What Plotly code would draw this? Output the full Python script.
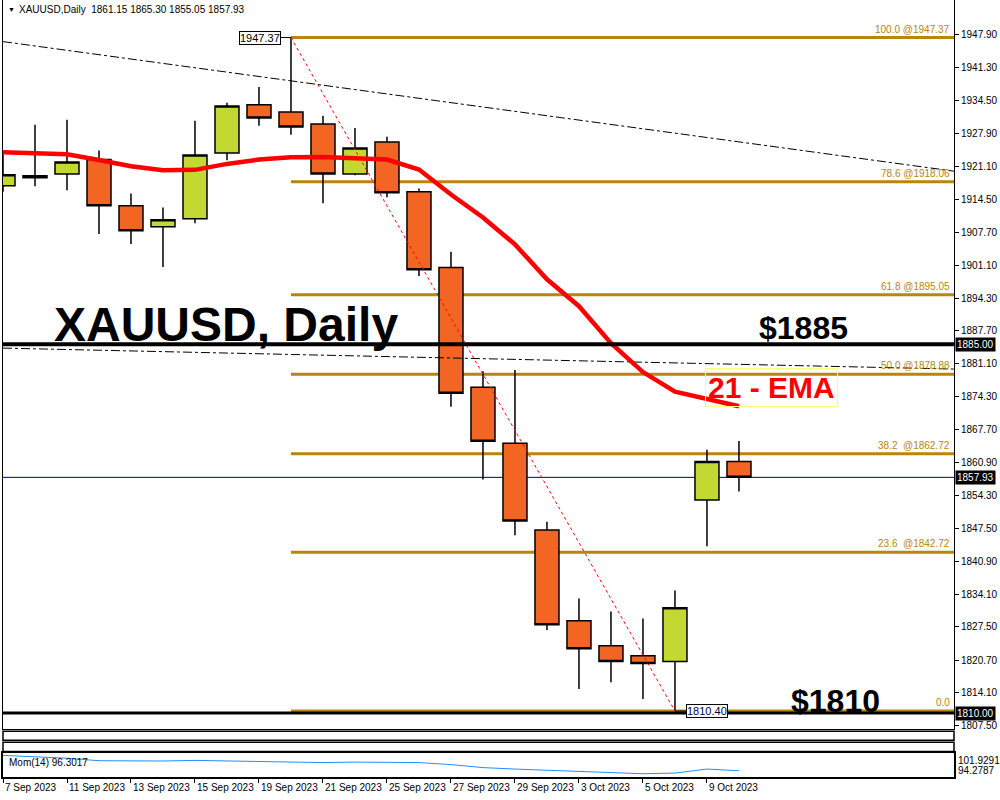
import plotly.graph_objects as go

# ---------------- data ----------------
dates = ["7 Sep 2023", "8 Sep 2023", "11 Sep 2023", "12 Sep 2023", "13 Sep 2023",
         "14 Sep 2023", "15 Sep 2023", "18 Sep 2023", "19 Sep 2023", "20 Sep 2023",
         "21 Sep 2023", "22 Sep 2023", "25 Sep 2023", "26 Sep 2023", "27 Sep 2023",
         "28 Sep 2023", "29 Sep 2023", "2 Oct 2023", "3 Oct 2023", "4 Oct 2023",
         "5 Oct 2023", "6 Oct 2023", "9 Oct 2023", "10 Oct 2023"]
opens = [1917.21, 1919.24, 1919.64, 1922.55, 1913.15, 1908.89, 1910.52, 1923.90,
         1933.70, 1932.22, 1929.79, 1919.64, 1926.14, 1915.99, 1900.58, 1876.24,
         1864.88, 1847.23, 1828.77, 1823.70, 1821.67, 1820.46, 1853.32, 1861.15]
highs = [1923.56, 1929.64, 1930.66, 1924.37, 1915.65, 1912.81, 1930.46, 1934.11,
         1937.29, 1947.37, 1931.47, 1928.98, 1927.21, 1916.66, 1903.82, 1879.48,
         1879.75, 1848.91, 1833.30, 1830.66, 1829.24, 1834.92, 1863.52, 1865.30]
lows = [1915.99, 1917.13, 1916.32, 1907.39, 1905.36, 1900.70, 1909.62, 1922.40,
        1929.44, 1927.62, 1913.68, 1919.36, 1914.90, 1898.87, 1872.30, 1857.49,
        1846.14, 1826.87, 1814.90, 1816.26, 1812.87, 1810.40, 1843.90, 1855.05]
closes = [1919.44, 1918.83, 1922.08, 1913.15, 1908.08, 1910.31, 1923.50, 1933.44,
          1931.00, 1929.18, 1919.64, 1924.92, 1915.79, 1900.17, 1875.02, 1865.28,
          1849.06, 1827.96, 1823.09, 1820.46, 1820.05, 1831.41, 1861.15, 1857.93]
ema21 = [1924.03, 1923.76, 1923.62, 1922.48, 1921.19, 1920.37, 1920.46, 1921.67,
         1922.55, 1923.01, 1923.09, 1922.81, 1922.55, 1920.52, 1915.45, 1910.78,
         1905.30, 1898.20, 1892.73, 1885.22, 1879.34, 1875.34, 1873.86, 1872.38]
momentum = [101.20, 100.80, 100.30, 99.50, 99.40, 99.40, 99.60, 99.40,
            99.06, 99.06, 98.90, 99.06, 99.06, 98.90, 98.26, 97.30,
            96.83, 96.51, 96.19, 95.87, 95.33, 95.55, 96.83, 96.30]
fib_levels = ["100.0 @1947.37", "78.6 @1918.06", "61.8 @1895.05", "50.0 @1878.88",
              "38.2\u00a0\u00a0@1862.72", "23.6\u00a0\u00a0@1842.72", "0.0"]
fib_prices = [1947.37, 1918.06, 1895.05, 1878.88, 1862.72, 1842.72, 1810.40]
fib_start_bar = 9
swing_bars = [9, 21]
swing_prices = [1947.37, 1810.40]
trend1_bars = [0, 29.72]
trend1_prices = [1946.54, 1920.19]
trend2_bars = [0, 29.72]
trend2_prices = [1884.21, 1879.95]
key_levels = [1885.00, 1810.00]
last_price = 1857.93
price_ticks = [1947.90, 1941.30, 1934.50, 1927.90, 1921.10, 1914.50, 1907.70, 1901.10,
               1894.30, 1887.70, 1881.10, 1874.30, 1867.70, 1860.90, 1854.30, 1847.50,
               1840.90, 1834.10, 1827.50, 1820.70, 1814.10, 1807.50]
mom_range = [94.2787, 101.9291]

bars = list(range(len(dates)))
X_MAX = 29.72
Y_RANGE = [1806.72, 1955.00]
W, H = 1000, 800
FONT = "Liberation Sans, Arial, sans-serif"
GOLD = "#B8860B"

def py(px):
    return 1 - px / H

fig = go.Figure()

# trend / MA dash-dot lines
fig.add_trace(go.Scatter(x=trend1_bars, y=trend1_prices, mode="lines",
                         line=dict(color="black", width=1, dash="dashdot"),
                         xaxis="x", yaxis="y", hoverinfo="skip"))
fig.add_trace(go.Scatter(x=trend2_bars, y=trend2_prices, mode="lines",
                         line=dict(color="black", width=1, dash="dashdot"),
                         xaxis="x", yaxis="y", hoverinfo="skip"))

# candles
fig.add_trace(go.Candlestick(
    x=bars, open=opens, high=highs, low=lows, close=closes,
    increasing=dict(fillcolor="#C3D932", line=dict(color="black", width=1.5)),
    decreasing=dict(fillcolor="#F26522", line=dict(color="black", width=1.5)),
    whiskerwidth=0, xaxis="x", yaxis="y"))

# EMA
fig.add_trace(go.Scatter(x=bars, y=ema21, mode="lines",
                         line=dict(color="#FF0000", width=4.5),
                         xaxis="x", yaxis="y", hoverinfo="skip"))

# fib swing connector
fig.add_trace(go.Scatter(x=swing_bars, y=swing_prices, mode="lines",
                         line=dict(color="#FF0000", width=1, dash="dot"),
                         xaxis="x", yaxis="y", hoverinfo="skip"))

# momentum
fig.add_trace(go.Scatter(x=bars, y=momentum, mode="lines",
                         line=dict(color="#1E90FF", width=1),
                         xaxis="x2", yaxis="y2", hoverinfo="skip"))

shapes = []
# fib levels
for p in fib_prices:
    shapes.append(dict(type="line", xref="x", yref="y", x0=fib_start_bar, x1=X_MAX,
                       y0=p, y1=p, line=dict(color=GOLD, width=3), layer="below"))
# current price line
shapes.append(dict(type="line", xref="paper", yref="y", x0=0.003, x1=0.954,
                   y0=last_price, y1=last_price, line=dict(color="#000080", width=1),
                   layer="below"))
# key black lines
shapes.append(dict(type="line", xref="paper", yref="y", x0=0.003, x1=0.954,
                   y0=key_levels[0], y1=key_levels[0], line=dict(color="black", width=4)))
shapes.append(dict(type="line", xref="paper", yref="y", x0=0.003, x1=0.954,
                   y0=key_levels[1], y1=key_levels[1], line=dict(color="black", width=3)))
# empty indicator panes
for top, bot in [(733, 742), (744, 753.5)]:
    shapes.append(dict(type="rect", xref="paper", yref="paper", x0=0.003, x1=0.954,
                       y0=py(bot), y1=py(top), line=dict(color="black", width=1.5)))

annotations = []
# header
annotations.append(dict(xref="paper", yref="paper", x=0.006, y=py(10), xanchor="left",
                        yanchor="middle", showarrow=False, text="\u25bc",
                        font=dict(family=FONT, size=7, color="black")))
annotations.append(dict(xref="paper", yref="paper", x=0.017, y=py(10), xanchor="left",
                        yanchor="middle", showarrow=False,
                        text="XAUUSD,Daily\u00a0\u00a0%.2f %.2f %.2f %.2f" % (opens[-1], highs[-1], lows[-1], closes[-1]),
                        font=dict(family=FONT, size=10, color="black")))
# fib labels
for lab, p in zip(fib_levels, fib_prices):
    annotations.append(dict(xref="x", yref="y", x=X_MAX, y=p, xanchor="right",
                            yanchor="bottom", xshift=-2, yshift=1, showarrow=False,
                            text=lab, font=dict(family=FONT, size=10, color=GOLD)))
# swing labels
annotations.append(dict(xref="x", yref="y", x=swing_bars[0], y=swing_prices[0],
                        showarrow=True, ax=-31, ay=0, arrowhead=0, arrowwidth=1,
                        arrowcolor="black", text="%.2f" % swing_prices[0],
                        bgcolor="white", bordercolor="black", borderwidth=1, borderpad=0,
                        font=dict(family=FONT, size=11, color="black")))
annotations.append(dict(xref="x", yref="y", x=swing_bars[1], y=swing_prices[1],
                        showarrow=True, ax=32, ay=0, arrowhead=0, arrowwidth=1,
                        arrowcolor="black", text="%.2f" % swing_prices[1],
                        bgcolor="white", bordercolor="black", borderwidth=1, borderpad=0,
                        font=dict(family=FONT, size=11, color="#000040")))
# axis boxes
for p in [key_levels[0], last_price, key_levels[1]]:
    annotations.append(dict(xref="paper", yref="y", x=0.955, y=p, xanchor="left",
                            yanchor="middle", showarrow=False, text="%.2f" % p,
                            bgcolor="black", borderpad=1,
                            font=dict(family=FONT, size=10, color="white")))
# big texts
annotations.append(dict(xref="paper", yref="paper", x=0.226, y=py(325), showarrow=False,
                        xanchor="center", yanchor="middle",
                        text="<b>XAUUSD, Daily</b>",
                        font=dict(family="Arial, Liberation Sans", size=48, color="black")))
annotations.append(dict(xref="paper", yref="paper", x=0.803, y=py(329), showarrow=False,
                        xanchor="center", yanchor="middle",
                        text="<b>$%d</b>" % key_levels[0],
                        font=dict(family="Arial, Liberation Sans", size=32, color="black")))
annotations.append(dict(xref="paper", yref="paper", x=0.835, y=py(703), showarrow=False,
                        xanchor="center", yanchor="middle",
                        text="<b>$%d</b>" % key_levels[1],
                        font=dict(family="Arial, Liberation Sans", size=32, color="black")))
annotations.append(dict(xref="paper", yref="paper", x=0.771, y=py(388), showarrow=False,
                        xanchor="center", yanchor="middle",
                        text="<b>21 - EMA</b>", bordercolor="#FFFF80", borderwidth=1,
                        borderpad=2,
                        font=dict(family="Arial, Liberation Sans", size=30, color="#FF0000")))
# momentum texts
annotations.append(dict(xref="paper", yref="paper", x=0.007, y=py(764), xanchor="left",
                        yanchor="middle", showarrow=False,
                        text="Mom(14) %.4f" % 96.3017,
                        font=dict(family=FONT, size=10, color="black")))
annotations.append(dict(xref="paper", yref="paper", x=0.956, y=py(762.5), xanchor="left",
                        yanchor="middle", showarrow=False, text="%.4f" % mom_range[1],
                        font=dict(family=FONT, size=10, color="black")))
annotations.append(dict(xref="paper", yref="paper", x=0.956, y=py(772.5), xanchor="left",
                        yanchor="middle", showarrow=False, text="%.4f" % mom_range[0],
                        font=dict(family=FONT, size=10, color="black")))
# date labels
for k in range(0, len(dates), 2):
    annotations.append(dict(xref="x2", yref="paper", x=k, y=py(789), xanchor="left",
                            yanchor="middle", showarrow=False, text=dates[k],
                            font=dict(family=FONT, size=10, color="black")))

fig.update_layout(
    width=W, height=H, margin=dict(l=0, r=0, t=0, b=0),
    paper_bgcolor="white", plot_bgcolor="white", showlegend=False,
    boxgap=0.25, boxgroupgap=0,
    xaxis=dict(domain=[0.003, 0.954], range=[0, X_MAX], anchor="y",
               showline=True, linecolor="black", linewidth=1, mirror=False,
               showticklabels=False, ticks="", showgrid=False, zeroline=False,
               rangeslider=dict(visible=False)),
    yaxis=dict(domain=[py(731), 1], range=Y_RANGE, side="right", anchor="x",
               showline=True, mirror=True, linecolor="black", linewidth=1,
               ticks="outside", ticklen=4, tickcolor="black",
               tickvals=price_ticks, ticktext=["%.2f" % t for t in price_ticks],
               tickfont=dict(family=FONT, size=10, color="black"),
               showgrid=False, zeroline=False),
    xaxis2=dict(domain=[0.003, 0.954], matches="x", anchor="y2",
                showline=True, mirror=True, linecolor="black", linewidth=1.5,
                ticks="outside", ticklen=4, tickcolor="black",
                tickvals=list(range(0, len(dates), 2)), showticklabels=False,
                showgrid=False, zeroline=False),
    yaxis2=dict(domain=[py(779), py(755)], range=mom_range, anchor="x2", side="right",
                showline=True, mirror=True, linecolor="black", linewidth=1.5,
                showticklabels=False, ticks="", showgrid=False, zeroline=False),
    shapes=shapes, annotations=annotations,
)

fig.write_html("out.html", config={"displayModeBar": False},
               post_script="document.body.style.margin='0';document.body.style.overflow='hidden';")
